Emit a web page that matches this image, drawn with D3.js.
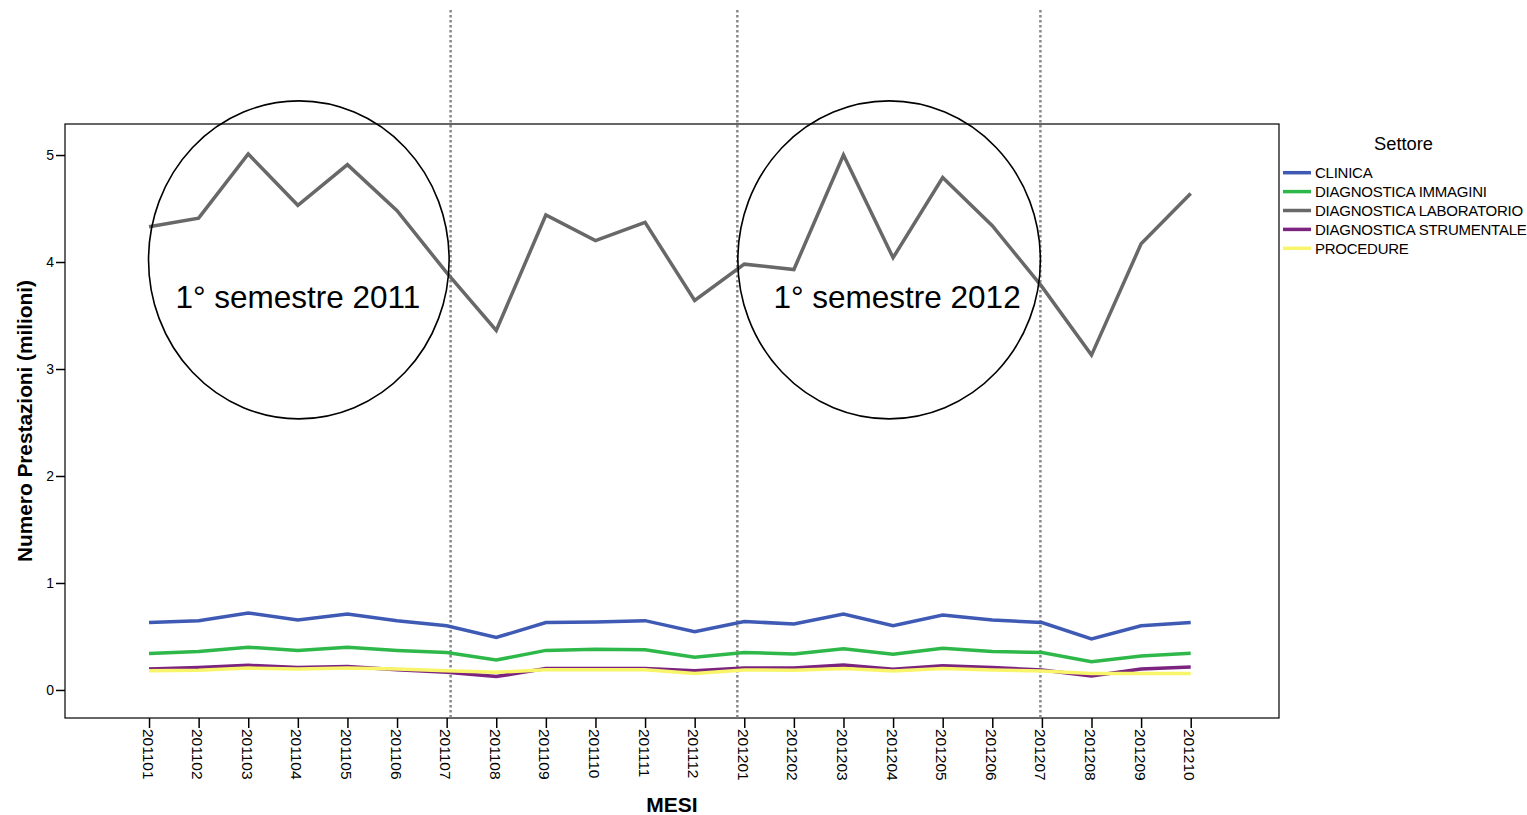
<!DOCTYPE html>
<html><head><meta charset="utf-8">
<script src="https://cdn.jsdelivr.net/npm/d3@7"></script>
<style>body{margin:0;background:#fff;} svg{display:block;font-family:"Liberation Sans",Arial,sans-serif;}</style>
</head><body>
<svg id="chart" width="1527" height="815"></svg>
<script>
const months = ["201101","201102","201103","201104","201105","201106","201107","201108","201109","201110","201111","201112","201201","201202","201203","201204","201205","201206","201207","201208","201209","201210"];
const seriesNames = ["CLINICA","DIAGNOSTICA IMMAGINI","DIAGNOSTICA LABORATORIO","DIAGNOSTICA STRUMENTALE","PROCEDURE"];
const clinica = [0.63,0.648,0.72,0.654,0.71,0.648,0.60,0.49,0.63,0.636,0.648,0.545,0.64,0.617,0.71,0.60,0.70,0.654,0.63,0.477,0.60,0.63];
const immagini = [0.34,0.36,0.40,0.37,0.40,0.37,0.35,0.28,0.37,0.38,0.375,0.305,0.35,0.336,0.386,0.333,0.39,0.36,0.35,0.265,0.318,0.343];
const laboratorio = [4.33,4.41,5.01,4.53,4.91,4.48,3.90,3.36,4.44,4.20,4.37,3.64,3.98,3.93,5.00,4.04,4.79,4.34,3.77,3.13,4.17,4.64];
const strumentale = [0.196,0.21,0.23,0.21,0.22,0.19,0.165,0.125,0.20,0.20,0.20,0.18,0.205,0.205,0.234,0.193,0.227,0.21,0.187,0.131,0.196,0.215];
const procedure = [0.18,0.185,0.205,0.195,0.205,0.195,0.18,0.165,0.19,0.19,0.19,0.155,0.187,0.185,0.20,0.178,0.20,0.187,0.178,0.155,0.155,0.155];
const yTicks = [0,1,2,3,4,5];
const colors = ["#3f5ab4","#2eb84a","#686868","#7b237e","#f8f56a"];
// annotations (in month-index / value units)
const dividers = [6.08, 11.86, 17.97];
const semesters = [{label:"1° semestre 2011", cx:3.02, cy:4.02, rx:3.03, ry:1.486, tx:3.0},
                   {label:"1° semestre 2012", cx:14.92, cy:4.02, rx:3.05, ry:1.486, tx:15.08}];

const allSeries = [clinica, immagini, laboratorio, strumentale, procedure];
const svg = d3.select("#chart");
const L=65, R=1279, T=124, B=718;
const x = d3.scaleLinear().domain([-1.694, 22.78]).range([L, R]);
const y = d3.scaleLinear().domain([-0.262, 5.29]).range([B, T]);
const FF = "Liberation Sans, Arial, sans-serif";

// frame
svg.append("rect").attr("x",L).attr("y",T).attr("width",R-L).attr("height",B-T)
  .attr("fill","none").attr("stroke","#000").attr("stroke-width",1.2);

// y axis
const ya = svg.append("g").attr("transform",`translate(${L},0)`)
  .call(d3.axisLeft(y).tickValues(yTicks).tickSize(9).tickPadding(2).tickFormat(d3.format("d")));
ya.select(".domain").remove();
ya.selectAll("text").attr("font-size",14).attr("fill","#000").attr("font-family",FF);
ya.selectAll("line").attr("stroke","#000").attr("stroke-width",1.5);

// x axis
const xa = svg.append("g").attr("transform",`translate(0,${B})`)
  .call(d3.axisBottom(x).tickValues(d3.range(months.length)).tickSize(10).tickFormat(i=>months[i]));
xa.select(".domain").remove();
xa.selectAll("line").attr("stroke","#000").attr("stroke-width",1.5);
xa.selectAll("text").attr("font-size",15.5).attr("fill","#000").attr("font-family",FF)
  .attr("text-anchor","start").attr("transform","rotate(90)").attr("x",11).attr("y",1.5).attr("dy","0.35em");

// dividers
svg.selectAll("line.div").data(dividers).join("line").attr("class","div")
  .attr("x1",d=>x(d)).attr("x2",d=>x(d)).attr("y1",10).attr("y2",B)
  .attr("stroke","#888").attr("stroke-width",2.5).attr("stroke-dasharray","2.5,2.5");

// lines
const line = d3.line().x((d,i)=>x(i)).y(d=>y(d));
allSeries.forEach((s,k)=>{
  svg.append("path").datum(s).attr("d",line).attr("fill","none")
    .attr("stroke",colors[k]).attr("stroke-width",3.5).attr("stroke-linejoin","miter");
});

// semester ellipses
const sx = (R-L)/(x.domain()[1]-x.domain()[0]);
const sy = (B-T)/(y.domain()[1]-y.domain()[0]);
semesters.forEach(s=>{
  svg.append("ellipse").attr("cx",x(s.cx)).attr("cy",y(s.cy)).attr("rx",s.rx*sx).attr("ry",s.ry*sy)
    .attr("fill","none").attr("stroke","#000").attr("stroke-width",1.6);
  svg.append("text").attr("x",x(s.tx)).attr("y",y(3.57)).attr("text-anchor","middle")
    .attr("font-size",31.5).attr("fill","#000").text(s.label);
});

// axis titles
svg.append("text").attr("x",672).attr("y",812).attr("text-anchor","middle")
  .attr("font-size",21).attr("font-weight","bold").text("MESI");
svg.append("text").attr("transform","translate(32,421) rotate(-90)").attr("text-anchor","middle")
  .attr("font-size",20.8).attr("font-weight","bold").text("Numero Prestazioni (milioni)");

// legend
svg.append("text").attr("x",1403.5).attr("y",150).attr("text-anchor","middle").attr("font-size",18.3).text("Settore");
const lg = svg.append("g");
seriesNames.forEach((n,k)=>{
  const yy = 172.7 + k*18.9;
  lg.append("line").attr("x1",1283).attr("x2",1311).attr("y1",yy).attr("y2",yy)
    .attr("stroke",colors[k]).attr("stroke-width",3.5);
  lg.append("text").attr("x",1315).attr("y",yy).attr("dy","0.36em").attr("font-size",15)
    .attr("letter-spacing","-0.25").text(n);
});
</script>
</body></html>
